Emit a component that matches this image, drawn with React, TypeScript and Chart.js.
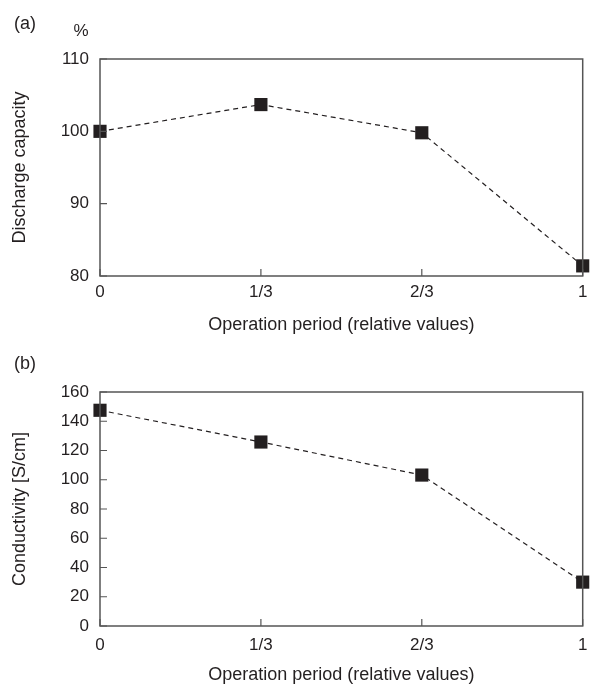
import React, { useEffect, useRef } from "react";
import { Chart, registerables } from "chart.js";

Chart.register(...registerables);

const categories = ["0", "1/3", "2/3", "1"];
const dischargeCapacity = [100.0, 103.7, 99.8, 81.4];
const conductivity = [147.5, 125.8, 103.2, 30.0];
const xTitle = "Operation period (relative values)";

const INK = "#231f20";
const FRAME = "#555555";
const FONT = "'Liberation Sans', Arial, Helvetica, sans-serif";

function framePlugin(panel: string, unitText: string | null) {
  return {
    id: "frame" + panel.replace(/[()]/g, ""),
    afterDraw(chart: any) {
      const { ctx, chartArea } = chart;
      const { left, right, top, bottom } = chartArea;
      ctx.save();
      ctx.strokeStyle = FRAME;
      ctx.lineWidth = 1.5;
      ctx.strokeRect(left, top, right - left, bottom - top);
      const xs = chart.scales.x;
      const ys = chart.scales.y;
      ctx.lineWidth = 1.2;
      ctx.beginPath();
      xs.ticks.forEach((_t: any, i: number) => {
        const px = xs.getPixelForTick(i);
        ctx.moveTo(px, bottom);
        ctx.lineTo(px, bottom - 7);
      });
      ys.ticks.forEach((_t: any, i: number) => {
        const py = ys.getPixelForTick(i);
        ctx.moveTo(left, py);
        ctx.lineTo(left + 7, py);
      });
      ctx.stroke();
      ctx.fillStyle = INK;
      ctx.textAlign = "center";
      ctx.textBaseline = "middle";
      ctx.font = `18px ${FONT}`;
      ctx.fillText(panel, 25, 24);
      if (unitText) {
        ctx.font = `17px ${FONT}`;
        ctx.fillText(unitText, 81, 31);
      }
      ctx.restore();
    },
  };
}

function makeConfig(
  values: number[],
  yTitle: string,
  yMin: number,
  yMax: number,
  yStep: number,
  topPad: number,
  xHeight: number,
  xTickPad: number,
  xTitlePadBottom: number,
  panel: string,
  unitText: string | null
): any {
  return {
    type: "line",
    data: {
      labels: categories,
      datasets: [
        {
          data: values,
          borderColor: INK,
          borderWidth: 1.2,
          borderDash: [5, 4],
          pointStyle: "rect",
          pointRadius: 9.3,
          pointBackgroundColor: INK,
          pointBorderColor: INK,
          pointBorderWidth: 0,
          fill: false,
          tension: 0,
          clip: false,
        },
      ],
    },
    options: {
      animation: false,
      responsive: false,
      events: [],
      layout: { padding: { top: topPad, right: 5, left: 0, bottom: 0 } },
      plugins: { legend: { display: false }, tooltip: { enabled: false } },
      scales: {
        x: {
          type: "category",
          offset: false,
          grid: { display: false, drawTicks: false },
          border: { display: false },
          ticks: {
            padding: xTickPad,
            color: INK,
            font: { family: FONT, size: 17 },
            maxRotation: 0,
            autoSkip: false,
          },
          title: {
            display: true,
            text: xTitle,
            color: INK,
            font: { family: FONT, size: 18 },
            padding: { top: 0, bottom: xTitlePadBottom },
          },
          afterFit(scale: any) {
            scale.height = xHeight;
            scale.paddingRight = 0;
            scale.paddingLeft = 0;
          },
        },
        y: {
          min: yMin,
          max: yMax,
          grid: { display: false, drawTicks: false },
          border: { display: false },
          ticks: {
            stepSize: yStep,
            padding: 11,
            color: INK,
            font: { family: FONT, size: 17 },
          },
          title: {
            display: true,
            text: yTitle,
            color: INK,
            font: { family: FONT, size: 18 },
            padding: { top: 9, bottom: 0 },
          },
          afterFit(scale: any) {
            scale.width = 100;
            scale.paddingTop = 0;
            scale.paddingBottom = 0;
          },
        },
      },
    },
    plugins: [framePlugin(panel, unitText)],
  };
}

export default function App() {
  const ref1 = useRef<HTMLCanvasElement>(null);
  const ref2 = useRef<HTMLCanvasElement>(null);

  useEffect(() => {
    const c1 = new Chart(
      ref1.current as HTMLCanvasElement,
      makeConfig(dischargeCapacity, "Discharge capacity", 80, 110, 10, 59, 64, 6, 4, "(a)", "%")
    );
    const c2 = new Chart(
      ref2.current as HTMLCanvasElement,
      makeConfig(conductivity, "Conductivity [S/cm]", 0, 160, 20, 52, 60, 9, 0, "(b)", null)
    );
    return () => {
      c1.destroy();
      c2.destroy();
    };
  }, []);

  return (
    <div style={{ position: "absolute", left: 0, top: 0, width: 592, height: 686, background: "#fff" }}>
      <canvas ref={ref1} width={592} height={340} style={{ position: "absolute", left: 0, top: 0, width: 592, height: 340 }} />
      <canvas ref={ref2} width={592} height={346} style={{ position: "absolute", left: 0, top: 340, width: 592, height: 346 }} />
    </div>
  );
}
